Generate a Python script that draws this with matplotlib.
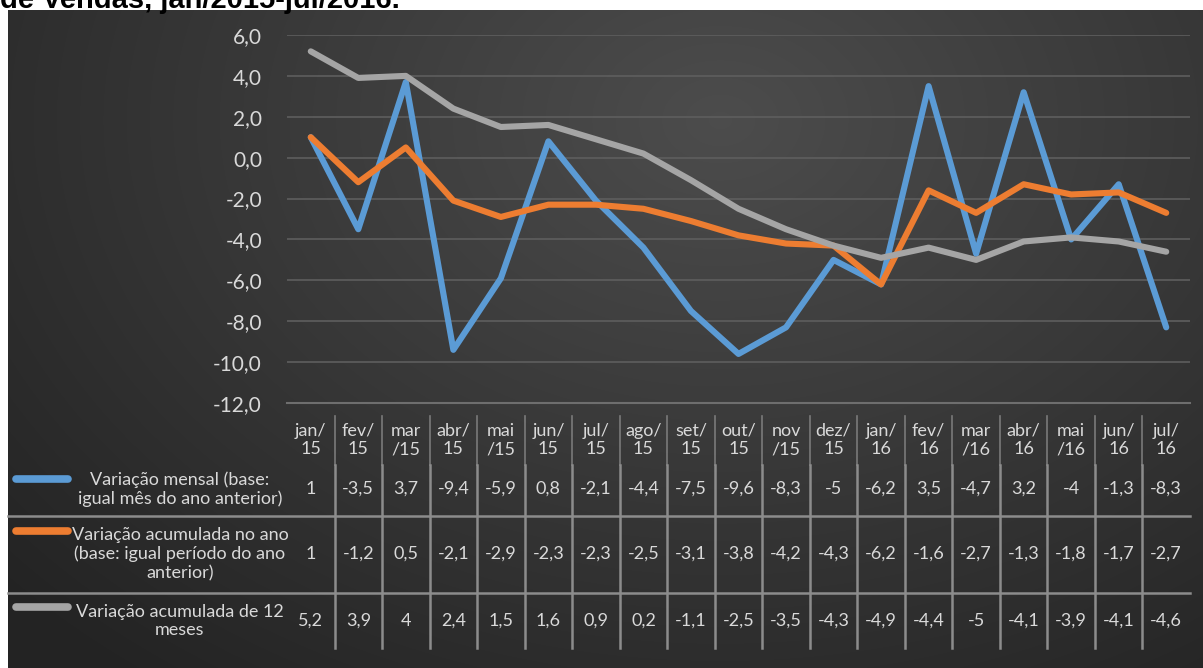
import numpy as np
import matplotlib
matplotlib.use("Agg")
import matplotlib.pyplot as plt
from matplotlib.transforms import blended_transform_factory

# Dados
meses = ["jan/\n15", "fev/\n15", "mar\n/15", "abr/\n15", "mai\n/15", "jun/\n15", "jul/\n15",
         "ago/\n15", "set/\n15", "out/\n15", "nov\n/15", "dez/\n15", "jan/\n16", "fev/\n16",
         "mar\n/16", "abr/\n16", "mai\n/16", "jun/\n16", "jul/\n16"]
mensal = [1, -3.5, 3.7, -9.4, -5.9, 0.8, -2.1, -4.4, -7.5, -9.6, -8.3, -5, -6.2, 3.5, -4.7, 3.2, -4, -1.3, -8.3]
acum_ano = [1, -1.2, 0.5, -2.1, -2.9, -2.3, -2.3, -2.5, -3.1, -3.8, -4.2, -4.3, -6.2, -1.6, -2.7, -1.3, -1.8, -1.7, -2.7]
acum_12 = [5.2, 3.9, 4, 2.4, 1.5, 1.6, 0.9, 0.2, -1.1, -2.5, -3.5, -4.3, -4.9, -4.4, -5, -4.1, -3.9, -4.1, -4.6]
nomes = ["Variação mensal (base:\nigual mês do ano anterior)",
         "Variação acumulada no ano\n(base: igual período do ano\nanterior)",
         "Variação acumulada de 12\nmeses"]
cores = ["#5B9BD5", "#ED7D31", "#A5A5A5"]

plt.rcParams["font.family"] = ["Lato", "DejaVu Sans"]
txt = "#d9d9d9"
W, H = 1203, 668

fig = plt.figure(figsize=(W / 100, H / 100), dpi=100, facecolor="white")

# fundo com gradiente radial
bg = fig.add_axes([0, 0, 1, 1], zorder=0)
bg.set_xlim(0, W)
bg.set_ylim(H, 0)
bg.axis("off")
yy, xx = np.mgrid[10:H, 8:W]
r = np.sqrt(((xx - 720) / 950.0) ** 2 + ((yy - 120) / 700.0) ** 2)
r = np.clip(r, 0, 1)
v = 0.30 - (0.30 - 0.14) * r
img = np.dstack([v, v, v])
bg.imshow(img, extent=(8, W, H, 10), aspect="auto", interpolation="bilinear")

# título cortado (como na imagem original)
fig.text(0.0, 1 - 8 / H, "de Vendas, jan/2015-jul/2016.", fontsize=21, fontweight="bold",
         family="Liberation Sans", color="black", va="baseline", ha="left")

# gráfico
ax = fig.add_axes([287 / W, 1 - 403 / H, 903 / W, 368 / H], zorder=2)
ax.patch.set_alpha(0)
x = np.arange(len(meses))
for serie, cor in zip([mensal, acum_ano, acum_12], cores):
    ax.plot(x, serie, color=cor, lw=4.4, solid_capstyle="round", solid_joinstyle="round")
ax.set_xlim(-0.5, len(meses) - 0.5)
ax.set_ylim(-12, 6)
ax.set_yticks(np.arange(-12, 7, 2))
ax.set_yticklabels([f"{t:.1f}".replace(".", ",") for t in np.arange(-12, 7, 2)])
ax.tick_params(axis="y", length=0, labelsize=15, labelcolor=txt, pad=18)
ax.tick_params(axis="x", length=0, labelbottom=False)
ax.grid(axis="y", color="#5e5e5e", lw=1.2)
for s in ["top", "right", "left"]:
    ax.spines[s].set_visible(False)
ax.spines["bottom"].set_color("#6e6e6e")
ax.spines["bottom"].set_linewidth(1.5)
ax.set_axisbelow(True)


def fmt(v):
    if float(v).is_integer():
        return str(int(v))
    return str(v).replace(".", ",")


# tabela de dados
tr = blended_transform_factory(ax.transData, bg.transData)
for i, m in enumerate(meses):
    bg.text(i, 440, m, transform=tr, ha="center", va="center", fontsize=13, color=txt,
            linespacing=1.2)
for i in range(len(meses) - 1):
    bg.plot([i + 0.5, i + 0.5], [416, 465], transform=tr, color="#7a7a7a", lw=1.2, clip_on=False)
    bg.plot([i + 0.5, i + 0.5], [465, 648], transform=tr, color="#8c8c8c", lw=1.8, clip_on=False)

linhas_y = [489, 554, 621]
chaves_y = [479, 531, 607]
for serie, nome, cor, yc, yk in zip([mensal, acum_ano, acum_12], nomes, cores, linhas_y, chaves_y):
    for i, val in enumerate(serie):
        bg.text(i, yc, fmt(val), transform=tr, ha="center", va="center", fontsize=13, color=txt)
    bg.plot([16, 68], [yk, yk], color=cor, lw=5.5, solid_capstyle="round")
    bg.text(180, yc, nome, ha="center", va="center", fontsize=13, color=txt, linespacing=1.2)

for yh in [516, 593]:
    bg.plot([8, 1190], [yh, yh], color="#8c8c8c", lw=1.8)

fig.savefig("out.png", dpi=100, facecolor="white")
